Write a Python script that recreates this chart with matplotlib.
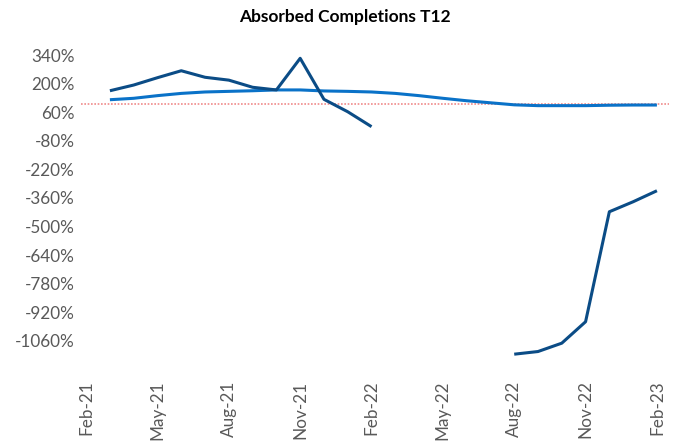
import numpy as np
import matplotlib
matplotlib.use("Agg")
import matplotlib.pyplot as plt

# monthly axis, Feb-21 .. Feb-23
months = ["Feb-21", "Mar-21", "Apr-21", "May-21", "Jun-21", "Jul-21", "Aug-21",
          "Sep-21", "Oct-21", "Nov-21", "Dec-21", "Jan-22", "Feb-22", "Mar-22",
          "Apr-22", "May-22", "Jun-22", "Jul-22", "Aug-22", "Sep-22", "Oct-22",
          "Nov-22", "Dec-22", "Jan-23", "Feb-23"]

# absorbed completions T12 (%), gaps as None
absorbed = [None, 165, 193, 229, 263, 231, 217, 182, 169, 324, 123, 62, -11,
            None, None, None, None, None,
            -1126, -1113, -1072, -967, -428, -379, -325]

# smoothed trend (%)
trend = [None, 121, 128, 141, 152, 159, 162, 165, 169, 169, 164, 162, 159,
         152, 141, 128, 116, 106, 96, 92, 92, 92, 94, 95, 95]

ref_level = 100
yticks = [340, 200, 60, -80, -220, -360, -500, -640, -780, -920, -1060]

plt.rcParams['font.family'] = ['Lato', 'DejaVu Sans']

fig = plt.figure(figsize=(6.77, 4.43), dpi=100)
ax = fig.add_axes([0.1202, 0.1664, 0.8677, 0.737])

x = np.arange(len(months))
y1 = np.array([np.nan if v is None else v for v in absorbed], dtype=float)
y2 = np.array([np.nan if v is None else v for v in trend], dtype=float)

ax.axhline(ref_level, color='#F08A8A', linestyle=(0, (1, 1)), linewidth=1.2, zorder=1)
ax.plot(x, y2, color='#0A72C8', linewidth=2.2, solid_capstyle='butt', zorder=2)
ax.plot(x, y1, color='#0B4C86', linewidth=2.2, solid_capstyle='butt', zorder=3)

ax.set_xlim(-0.2, 24.5)
ax.set_ylim(-1200, 400)
ax.set_yticks(yticks)
ax.set_yticklabels([f"{v}%" for v in yticks])
ax.set_xticks(x[::3])
ax.set_xticklabels(months[::3], rotation=90)

for s in ax.spines.values():
    s.set_visible(False)
ax.tick_params(axis='both', length=0, colors='#595959', labelsize=12.3)
ax.tick_params(axis='y', pad=5)
ax.tick_params(axis='x', pad=8)

fig.text(0.51, 0.962, "Absorbed Completions T12", ha='center', va='center',
         fontsize=12.5, fontweight='bold', color='#000000')

fig.savefig("out.png", dpi=100)
